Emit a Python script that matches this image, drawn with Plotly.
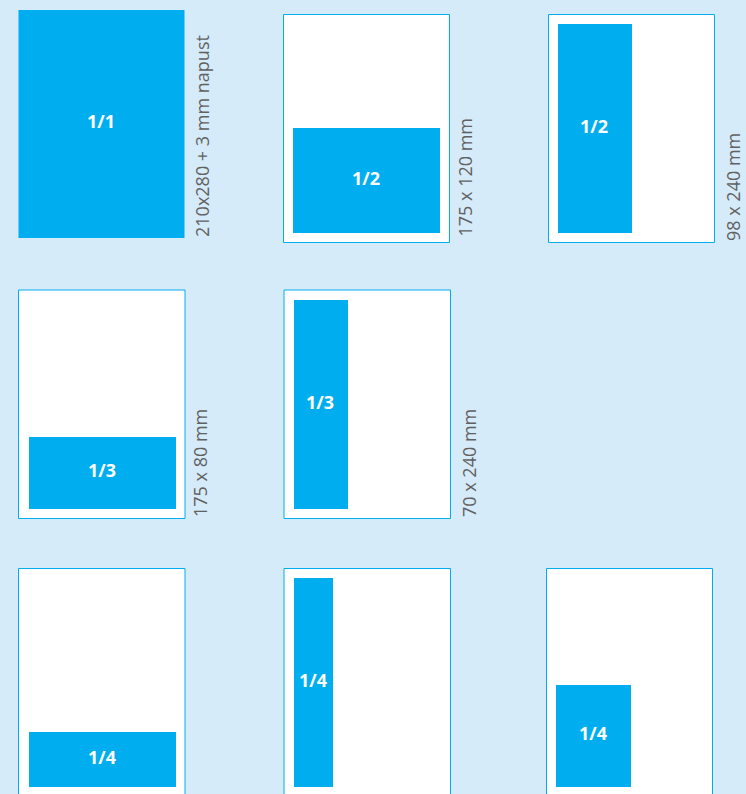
import plotly.graph_objects as go

# ---- data ----
fractions = ["1/1", "1/2", "1/2", "1/3", "1/3", "1/4", "1/4", "1/4"]
sizes = ["210x280 + 3 mm napust", "175 x 120 mm", "98 x 240 mm", "175 x 80 mm",
         "70 x 240 mm", "175 x 60 mm", "47 x 240 mm", "98 x 120 mm"]

# ---- layout (pixel positions) ----
page_x0 = [18.5, 283.5, 548.5, 18.5, 284, 18.5, 284, 546.5]
page_x1 = [184.5, 449.5, 714.5, 185, 450.5, 185, 450.5, 712.5]
page_y0 = [10, 14.5, 14.5, 290, 290, 568.5, 568.5, 568.5]
page_y1 = [238, 242.5, 242.5, 518.5, 518.5, 800, 800, 800]
has_frame = [False, True, True, True, True, True, True, True]
ad_x0 = [18.5, 293, 558, 29, 294, 29, 294, 556]
ad_x1 = [184.5, 440, 632, 176, 348, 176, 333, 631]
ad_y0 = [10, 128, 24, 437, 300, 732, 578, 685]
ad_y1 = [238, 233, 233, 509, 509, 787, 787, 787]
lab_x = [202, 464, 733, 200, 469, 200, 469, 727]
lab_y = [238, 238, 242, 518, 518, 800, 800, 800]

BG = "#D5EBF9"
BLUE = "#00AEEF"
GREY = "#616161"

fig = go.Figure()
shapes = []
annotations = []
for i in range(len(fractions)):
    if has_frame[i]:
        shapes.append(dict(type="rect", xref="x", yref="y",
                           x0=page_x0[i], x1=page_x1[i], y0=page_y0[i], y1=page_y1[i],
                           fillcolor="white", line=dict(color=BLUE, width=1), layer="below"))
    shapes.append(dict(type="rect", xref="x", yref="y",
                       x0=ad_x0[i], x1=ad_x1[i], y0=ad_y0[i], y1=ad_y1[i],
                       fillcolor=BLUE, line=dict(width=0), layer="below"))
    annotations.append(dict(x=(ad_x0[i] + ad_x1[i]) / 2 - 1, y=(ad_y0[i] + ad_y1[i]) / 2 - 3,
                            xref="x", yref="y", text="<b>" + fractions[i] + "</b>",
                            showarrow=False, font=dict(family="Open Sans", size=18, color="white"),
                            xanchor="center", yanchor="middle"))
    annotations.append(dict(x=lab_x[i], y=lab_y[i], xref="x", yref="y", text=sizes[i],
                            textangle=-90, showarrow=False,
                            font=dict(family="Open Sans", size=18, color=GREY),
                            xanchor="center", yanchor="bottom", borderpad=0))

fig.add_trace(go.Scatter(x=[0, 746], y=[0, 794], mode="markers",
                         marker=dict(opacity=0), hoverinfo="skip", showlegend=False))

fig.update_layout(
    width=746, height=794, margin=dict(l=0, r=0, t=0, b=0),
    paper_bgcolor=BG, plot_bgcolor=BG,
    xaxis=dict(range=[0, 746], visible=False, fixedrange=True),
    yaxis=dict(range=[794, 0], visible=False, fixedrange=True),
    shapes=shapes, annotations=annotations, showlegend=False,
)
fig.write_html("out.html", config={"displayModeBar": False},
               post_script="document.body.style.margin='0';document.body.style.overflow='hidden';")
